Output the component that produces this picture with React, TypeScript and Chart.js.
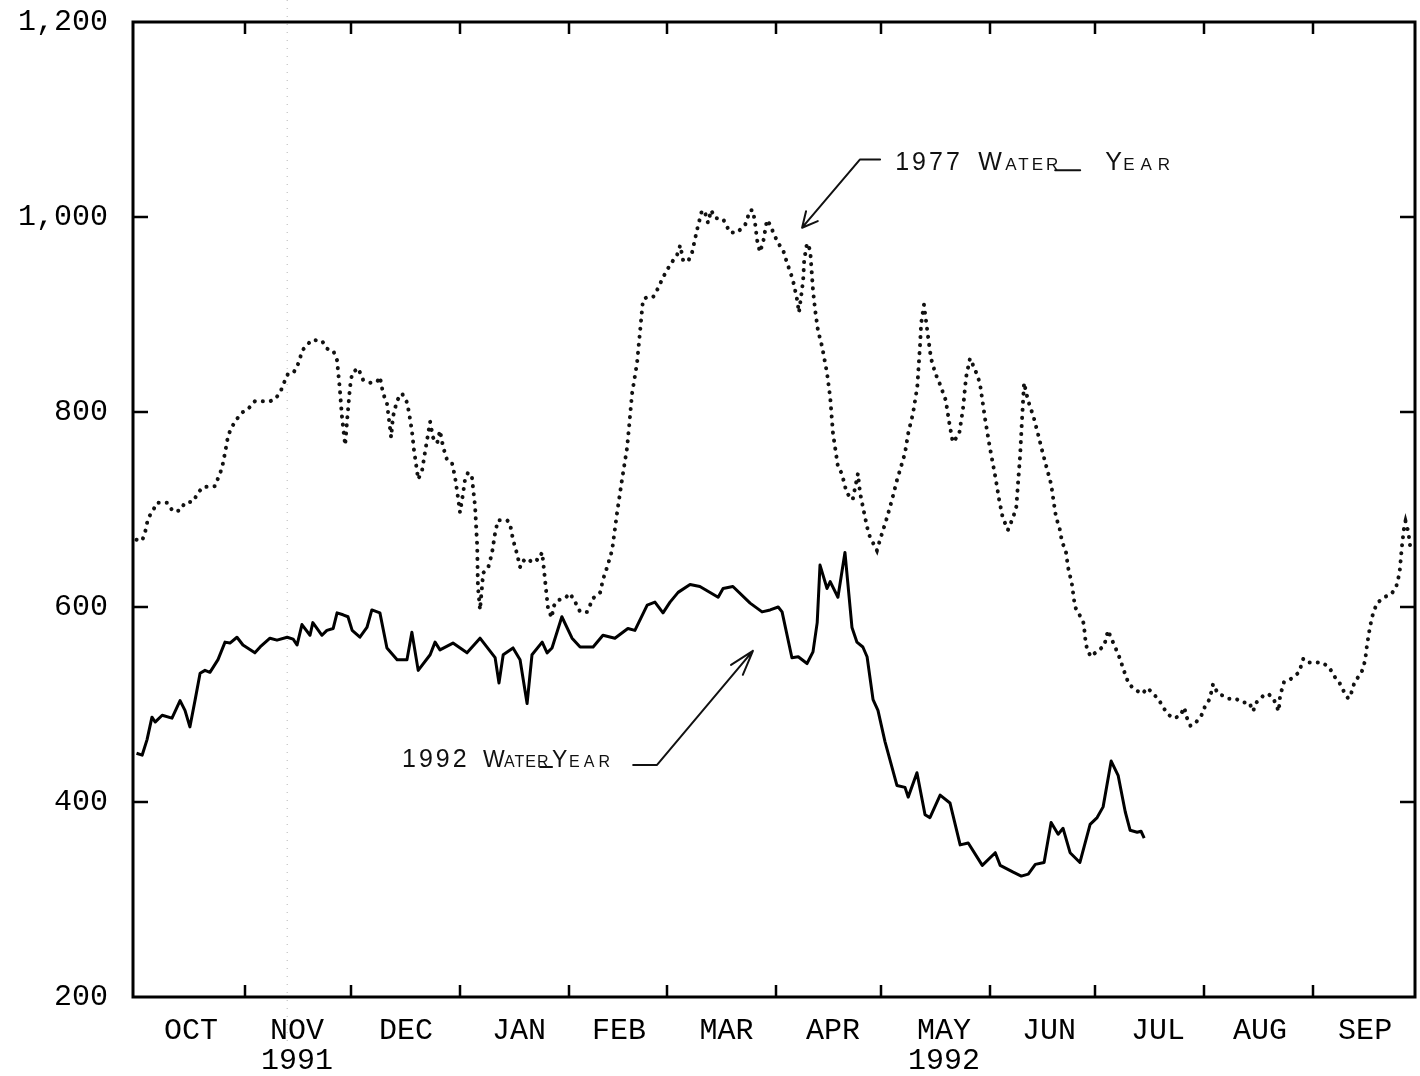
import { useEffect, useRef } from "react";
import { Chart, registerables } from "chart.js";

Chart.register(...registerables);

// ---- axis data ----
const monthTickDays = [0, 31, 61, 92, 123, 151, 182, 212, 243, 273, 304, 335, 365];
const monthLabelDays = [15.5, 45.7, 76.7, 108.9, 137.4, 168, 198.3, 229.9, 259.8, 290.8, 319.9, 349.8];
const monthLabels: (string | string[])[] = [
  "OCT", ["NOV", "1991"], "DEC", "JAN", "FEB", "MAR", "APR", ["MAY", "1992"], "JUN", "JUL", "AUG", "SEP",
];
const yTickValues = [200, 400, 600, 800, 1000, 1200];

// ---- 1992 water year (solid) : day since Oct 1, flow ----
const days1992 = [
  0, 1.6, 3.0, 4.4, 5.3, 7.3, 10.1, 12.4, 13.8, 15.2,
  16.7, 18.1, 19.5, 20.9, 23.2, 25.2, 26.6, 28.6, 30.3, 33.7,
  35.2, 38.0, 40.0, 42.9, 44.6, 45.7, 47.1, 49.4, 50.2, 52.8,
  54.2, 56.0, 57.1, 58.8, 60.2, 61.4, 63.6, 65.6, 67.0, 69.3,
  71.3, 74.2, 77.0, 78.4, 80.2, 83.6, 85.0, 86.4, 90.1, 94.1,
  97.8, 102.1, 103.2, 104.4, 107.2, 109.2, 111.2, 112.6, 115.5, 116.9,
  118.3, 121.1, 124.0, 126.3, 130.0, 132.8, 136.2, 139.9, 141.9, 145.4,
  147.6, 149.9, 151.9, 154.2, 157.6, 160.4, 165.6, 167.0, 169.8, 174.7,
  178.1, 180.4, 182.7, 183.8, 186.6, 188.4, 190.9, 192.6, 193.8, 194.6,
  196.6, 197.5, 199.7, 201.7, 203.7, 205.1, 206.8, 208.0, 209.7, 211.1,
  213.1, 216.5, 218.8, 219.7, 222.2, 224.5, 225.9, 228.8, 231.6, 234.5,
  236.8, 240.8, 244.5, 245.9, 249.6, 251.9, 253.9, 255.9, 258.4, 260.4,
  262.4, 263.8, 265.8, 268.6, 271.5, 273.5, 275.2, 277.5, 279.5, 281.5,
  282.9, 284.9, 286.0, 286.9,
];
const flow1992 = [
  450, 448, 464, 487, 482, 489, 486, 504, 494, 477,
  505, 532, 535, 533, 546, 564, 563, 569, 561, 553,
  559, 568, 566, 569, 567, 561, 582, 571, 584, 571,
  576, 578, 594, 592, 590, 576, 569, 579, 597, 594,
  558, 546, 546, 574, 535, 551, 564, 556, 563, 553,
  568, 548, 522, 551, 558, 546, 501, 551, 564, 553,
  558, 590, 568, 559, 559, 571, 568, 578, 576, 602,
  605, 594, 605, 615, 623, 621, 610, 619, 621, 604,
  595, 597, 600, 595, 548, 549, 542, 554, 584, 643,
  619, 626, 610, 656, 579, 564, 559, 549, 505, 494,
  462, 417, 415, 405, 430, 387, 384, 407, 399, 356,
  358, 335, 348, 335, 328, 324, 326, 336, 338, 379,
  367, 373, 348, 338, 377, 384, 395, 442, 427, 390,
  371, 369, 370, 363,
];

// ---- 1977 water year (dotted) ----
const days1977 = [
  0, 1.6, 2.4, 3.3, 4.7, 5.8, 8.7, 10.4, 12.4, 13.8,
  16.1, 17.5, 18.9, 22.4, 23.2, 24.3, 25.2, 26.1, 27.2, 28.6,
  30.3, 31.5, 33.7, 38.0, 39.4, 40.9, 42.0, 43.1, 44.6, 45.7,
  46.6, 47.4, 49.9, 52.8, 54.2, 56.0, 57.1, 57.9, 58.5, 59.4,
  59.9, 60.8, 61.4, 63.1, 64.5, 66.5, 68.5, 69.3, 70.2, 71.3,
  72.5, 73.0, 74.2, 75.6, 77.0, 77.6, 78.4, 79.0, 80.2, 81.3,
  82.1, 83.6, 84.4, 85.6, 86.4, 87.3, 88.4, 89.8, 90.7, 91.5,
  92.1, 93.0, 93.5, 94.4, 95.5, 96.4, 97.0, 97.2, 97.8, 98.7,
  100.1, 101.2, 102.1, 102.9, 105.5, 106.3, 107.2, 108.3, 109.2, 110.1,
  111.5, 112.9, 114.3, 115.5, 116.3, 117.2, 118.3, 118.6, 120.0, 122.0,
  123.4, 124.9, 126.3, 128.3, 130.0, 132.0, 132.8, 134.0, 135.4, 136.8,
  138.2, 139.7, 141.1, 142.5, 143.4, 144.2, 145.4, 147.1, 148.5, 149.9,
  151.1, 152.5, 153.9, 154.8, 155.6, 157.0, 158.2, 159.6, 161.0, 161.9,
  162.7, 163.6, 164.7, 167.0, 169.0, 171.0, 173.3, 174.7, 175.5, 176.1,
  176.7, 177.5, 178.4, 179.5, 180.4, 181.3, 182.7, 184.1, 185.2, 186.1,
  186.9, 188.1, 188.6, 189.2, 189.8, 190.1, 190.9, 191.8, 192.6, 193.2,
  194.0, 195.2, 196.6, 197.5, 198.3, 199.7, 200.8, 202.2, 203.9, 205.4,
  206.0, 206.8, 208.0, 208.8, 210.8, 211.7, 213.7, 215.1, 216.5, 218.0,
  218.8, 219.7, 221.1, 222.3, 223.1, 223.4, 224.2, 225.3, 226.2, 227.4,
  228.8, 230.4, 231.4, 232.4, 234.2, 235.3, 236.2, 237.3, 238.7, 240.1,
  241.6, 242.7, 243.3, 244.6, 245.6, 246.6, 248.1, 249.6, 250.5, 251.0,
  251.6, 252.0, 252.7, 253.8, 255.4, 256.7, 257.8, 258.9, 260.4, 261.2,
  261.8, 262.8, 263.5, 264.6, 265.2, 266.3, 267.2, 268.2, 269.7, 270.1,
  270.6, 271.7, 273.6, 275.5, 276.6, 277.5, 278.5, 280.0, 280.9, 282.5,
  284.4, 286.3, 287.9, 289.4, 290.9, 292.3, 293.7, 295.1, 297.1, 298.3,
  299.1, 300.1, 301.7, 303.1, 304.1, 305.6, 306.5, 307.9, 309.4, 311.0,
  312.9, 314.9, 316.8, 317.9, 318.8, 320.8, 322.2, 323.7, 325.2, 325.6,
  326.7, 328.2, 329.6, 331.0, 332.2, 333.6, 335.6, 337.6, 339.6, 341.0,
  342.4, 343.8, 345.0, 345.8, 346.8, 348.8, 349.8, 350.3, 351.2, 352.1,
  353.2, 355.2, 357.2, 358.6, 359.6, 360.3, 360.9, 361.3, 362.1, 362.6,
  363.4,
];
const flow1977 = [
  669, 668, 676, 691, 699, 707, 707, 698, 699, 707,
  708, 717, 723, 724, 732, 742, 758, 776, 785, 793,
  800, 802, 811, 811, 813, 820, 830, 839, 840, 846,
  856, 864, 874, 873, 865, 863, 853, 823, 795, 766,
  789, 826, 840, 845, 833, 830, 831, 836, 819, 809,
  774, 795, 812, 819, 810, 799, 781, 761, 731, 740,
  758, 790, 774, 768, 781, 764, 751, 748, 733, 713,
  697, 717, 730, 738, 733, 703, 662, 621, 597, 635,
  640, 655, 676, 689, 689, 686, 669, 655, 641, 648,
  645, 650, 648, 656, 628, 597, 589, 600, 607, 609,
  614, 605, 595, 595, 609, 615, 628, 641, 658, 696,
  730, 764, 819, 850, 884, 915, 918, 918, 927, 938,
  946, 954, 961, 971, 956, 954, 964, 987, 1007, 1004,
  994, 1007, 999, 998, 984, 984, 992, 1007, 1007, 994,
  976, 964, 974, 997, 992, 984, 973, 966, 953, 944,
  935, 915, 902, 918, 935, 956, 973, 966, 925, 905,
  884, 867, 840, 815, 778, 744, 737, 717, 710, 737,
  717, 703, 682, 672, 658, 669, 692, 710, 730, 748,
  758, 778, 799, 826, 870, 891, 910, 879, 855, 840,
  828, 812, 789, 769, 777, 803, 836, 855, 844, 830,
  793, 769, 757, 732, 710, 692, 679, 692, 703, 728,
  757, 785, 830, 812, 795, 777, 761, 746, 726, 706,
  692, 681, 667, 657, 641, 624, 600, 594, 583, 568,
  557, 549, 555, 560, 576, 568, 560, 547, 537, 521,
  515, 511, 517, 511, 506, 497, 490, 486, 488, 497,
  486, 478, 482, 488, 497, 506, 521, 511, 509, 506,
  506, 502, 502, 493, 502, 509, 511, 506, 493, 509,
  523, 525, 529, 533, 547, 543, 543, 543, 538, 529,
  523, 513, 506, 511, 523, 533, 545, 560, 580, 594,
  604, 610, 613, 620, 635, 663, 682, 688, 677, 663,
  662,
];

// ---- annotations (data coordinates) ----
const arrow1977Days = [211.7, 206.0, 189.5];
const arrow1977Vals = [1059, 1059, 989];
const label1977Anchor = [216.0, 1048];
const arrow1992Days = [141.4, 148.2, 175.5];
const arrow1992Vals = [438, 438, 555];
const label1992Anchor = [75.6, 436];
const scanLineDay = 42.9;

const MONO = '"Liberation Mono", "Courier New", "DejaVu Sans Mono", monospace';
const HAND = '"Liberation Sans", "DejaVu Sans", sans-serif';

type Part = { t: string; dx: number; size: number; ls: number };
const parts1977: Part[] = [
  { t: "1977", dx: 0, size: 25, ls: 3 },
  { t: "W", dx: 83, size: 25, ls: 0 },
  { t: "ATER", dx: 110, size: 17, ls: 3 },
  { t: "Y", dx: 210, size: 25, ls: 0 },
  { t: "EAR", dx: 228, size: 17, ls: 6 },
];
const parts1992: Part[] = [
  { t: "1992", dx: 0, size: 25, ls: 3 },
  { t: "W", dx: 81, size: 23, ls: 0 },
  { t: "ATER", dx: 102, size: 16, ls: 1 },
  { t: "Y", dx: 150, size: 23, ls: 0 },
  { t: "EAR", dx: 167, size: 16, ls: 4 },
];
// short hand-drawn underscores after "ATER" (pixel offsets from label anchor)
const under1977 = [160, 185];
const under1992 = [138, 150];

function drawArrow(ctx: CanvasRenderingContext2D, pts: number[][], len: number, ang: number) {
  ctx.beginPath();
  ctx.moveTo(pts[0][0], pts[0][1]);
  for (let i = 1; i < pts.length; i++) ctx.lineTo(pts[i][0], pts[i][1]);
  const [tx, ty] = pts[pts.length - 1];
  const [px, py] = pts[pts.length - 2];
  const back = Math.atan2(py - ty, px - tx);
  ctx.moveTo(tx + len * Math.cos(back - ang), ty + len * Math.sin(back - ang));
  ctx.lineTo(tx, ty);
  ctx.lineTo(tx + len * Math.cos(back + ang), ty + len * Math.sin(back + ang));
  ctx.stroke();
}

function drawParts(ctx: CanvasRenderingContext2D, x0: number, y0: number, parts: Part[], under: number[]) {
  for (const p of parts) {
    ctx.font = `${p.size}px ${HAND}`;
    (ctx as any).letterSpacing = `${p.ls}px`;
    ctx.fillText(p.t, x0 + p.dx, y0);
  }
  (ctx as any).letterSpacing = "0px";
  ctx.beginPath();
  ctx.moveTo(x0 + under[0], y0);
  ctx.lineTo(x0 + under[1], y0);
  ctx.stroke();
}

const framePlugin = {
  id: "frame",
  beforeDatasetsDraw(chart: any) {
    const { ctx, scales } = chart;
    const px = scales.x.getPixelForValue(scanLineDay);
    ctx.save();
    ctx.strokeStyle = "rgba(120,120,120,0.55)";
    ctx.lineWidth = 1;
    ctx.setLineDash([1, 7]);
    ctx.beginPath();
    ctx.moveTo(px, 0);
    ctx.lineTo(px, chart.height - 30);
    ctx.stroke();
    ctx.restore();
  },
  afterDatasetsDraw(chart: any) {
    const { ctx, scales } = chart;
    const xs = scales.x;
    const ys = scales.y;
    const P = (d: number, v: number) => [xs.getPixelForValue(d), ys.getPixelForValue(v)];
    ctx.save();
    ctx.strokeStyle = "#111";
    ctx.fillStyle = "#111";
    ctx.lineWidth = 2;
    ctx.lineCap = "round";
    ctx.lineJoin = "round";
    drawArrow(ctx, arrow1977Days.map((d, i) => P(d, arrow1977Vals[i])), 17, 0.47);
    drawArrow(ctx, arrow1992Days.map((d, i) => P(d, arrow1992Vals[i])), 26, 0.3);
    ctx.textBaseline = "alphabetic";
    ctx.textAlign = "left";
    const a1 = P(label1977Anchor[0], label1977Anchor[1]);
    drawParts(ctx, a1[0], a1[1], parts1977, under1977);
    const a2 = P(label1992Anchor[0], label1992Anchor[1]);
    drawParts(ctx, a2[0], a2[1], parts1992, under1992);
    ctx.restore();
  },
  afterDraw(chart: any) {
    const { ctx, chartArea: a, scales } = chart;
    const xs = scales.x;
    const ys = scales.y;
    ctx.save();
    ctx.strokeStyle = "#000";
    ctx.lineWidth = 3;
    ctx.strokeRect(a.left, a.top, a.right - a.left, a.bottom - a.top);
    ctx.lineWidth = 2.5;
    ctx.beginPath();
    for (const d of monthTickDays.slice(1, -1)) {
      const px = Math.round(xs.getPixelForValue(d));
      ctx.moveTo(px, a.bottom);
      ctx.lineTo(px, a.bottom - 12);
      ctx.moveTo(px, a.top);
      ctx.lineTo(px, a.top + 12);
    }
    for (const v of yTickValues.slice(1, -1)) {
      const py = Math.round(ys.getPixelForValue(v));
      ctx.moveTo(a.left, py);
      ctx.lineTo(a.left + 15, py);
      ctx.moveTo(a.right, py);
      ctx.lineTo(a.right - 15, py);
    }
    ctx.stroke();
    ctx.restore();
  },
};

export default function App() {
  const ref = useRef<HTMLCanvasElement>(null);

  useEffect(() => {
    if (!ref.current) return;
    const chart = new Chart(ref.current, {
      type: "line",
      data: {
        datasets: [
          {
            label: "1977 Water Year",
            data: days1977.map((d, i) => ({ x: d, y: flow1977[i] })),
            borderColor: "#111",
            borderWidth: 4,
            borderDash: [0.1, 8],
            borderCapStyle: "round",
            pointRadius: 0,
            tension: 0,
            fill: false,
          },
          {
            label: "1992 Water Year",
            data: days1992.map((d, i) => ({ x: d, y: flow1992[i] })),
            borderColor: "#000",
            borderWidth: 3,
            pointRadius: 0,
            tension: 0,
            fill: false,
            borderJoinStyle: "round",
          },
        ],
      },
      options: {
        responsive: false,
        animation: false,
        devicePixelRatio: 1,
        layout: { padding: { top: 22, right: 5, bottom: 0, left: 0 } },
        plugins: {
          legend: { display: false },
          tooltip: { enabled: false },
        },
        scales: {
          x: {
            type: "linear",
            position: "bottom",
            min: -1,
            max: 364,
            afterBuildTicks: (s: any) => {
              s.ticks = monthTickDays.map((v) => ({ value: v }));
            },
            ticks: { display: false },
            grid: { display: false, drawTicks: false },
            border: { display: false },
            afterFit: (s: any) => {
              s.height = 0;
              s.paddingLeft = 0;
              s.paddingRight = 0;
            },
          },
          xLabels: {
            type: "linear",
            position: "bottom",
            min: -1,
            max: 364,
            afterBuildTicks: (s: any) => {
              s.ticks = monthLabelDays.map((v) => ({ value: v }));
            },
            ticks: {
              autoSkip: false,
              maxRotation: 0,
              minRotation: 0,
              color: "#000",
              padding: 19,
              font: { family: MONO, size: 30, lineHeight: 1.0 },
              callback: (_v: any, i: number) => monthLabels[i],
            },
            grid: { display: false, drawTicks: false },
            border: { display: false },
            afterFit: (s: any) => {
              s.height = 79;
              s.paddingLeft = 0;
              s.paddingRight = 0;
            },
          },
          y: {
            type: "linear",
            min: 200,
            max: 1200,
            afterBuildTicks: (s: any) => {
              s.ticks = yTickValues.map((v) => ({ value: v }));
            },
            ticks: {
              color: "#000",
              padding: 25,
              font: { family: MONO, size: 30 },
              callback: (v: any) => Number(v).toLocaleString("en-US"),
            },
            grid: { display: false, drawTicks: false },
            border: { display: false },
            afterFit: (s: any) => {
              s.width = 133;
              s.paddingTop = 0;
              s.paddingBottom = 0;
            },
          },
        },
      },
      plugins: [framePlugin],
    } as any);
    return () => chart.destroy();
  }, []);

  return (
    <div style={{ position: "absolute", left: 0, top: 0, width: 1420, height: 1076, background: "#fff" }}>
      <canvas ref={ref} width={1420} height={1076} style={{ display: "block" }} />
    </div>
  );
}
